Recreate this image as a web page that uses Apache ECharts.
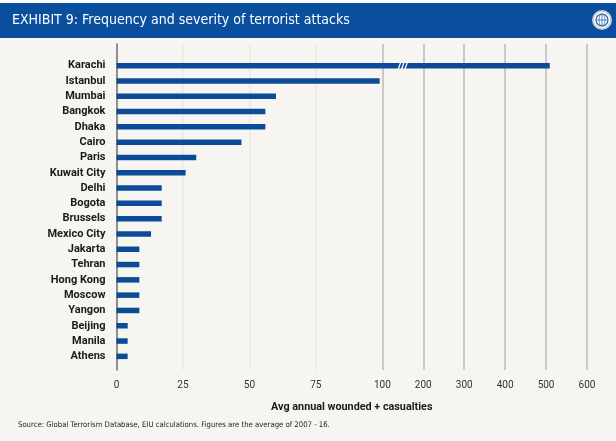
<!DOCTYPE html>
<html>
<head>
<meta charset="utf-8">
<style>
  html, body { margin: 0; padding: 0; background: #f7f5f2; }
  #chart { width: 616px; height: 441px; }
</style>
<script src="https://cdn.jsdelivr.net/npm/echarts@6/dist/echarts.min.js"></script>
</head>
<body>
<div id="chart"></div>
<script>
const cities = [
  'Karachi', 'Istanbul', 'Mumbai', 'Bangkok', 'Dhaka', 'Cairo', 'Paris',
  'Kuwait City', 'Delhi', 'Bogota', 'Brussels', 'Mexico City', 'Jakarta',
  'Tehran', 'Hong Kong', 'Moscow', 'Yangon', 'Beijing', 'Manila', 'Athens'
]
const values = [
  509, 99, 60, 56, 56, 47, 30, 26, 17, 17, 17, 13, 8.6, 8.6, 8.6, 8.6, 8.6,
  4.2, 4.2, 4.2
]
const tickValues = [0, 25, 50, 75, 100, 200, 300, 400, 500, 600]
const breakAt = 150

// above 100 the axis is squeezed: 100 units take the room of ~15
const squeeze = 0.154
function toAxis(v) {
  return v <= 100 ? v : 100 + (v - 100) * squeeze
}

const axisMax = toAxis(600)
const axisTicks = tickValues.map(toAxis)
const blue = '#0c4b98'
const font = "'Liberation Sans Narrow', 'DejaVu Sans Condensed', Roboto, sans-serif"

function tickLabel(v) {
  const i = axisTicks.findIndex(t => Math.abs(t - v) < 0.01)
  return i < 0 ? '' : String(tickValues[i])
}

const chart = echarts.init(document.getElementById('chart'), null, { renderer: 'canvas' })

const option = {
  backgroundColor: '#f7f5f2',
  animation: false,
  grid: [
    // grid for the lines + tick labels
    { left: 116.5, right: 29, top: 44, bottom: 71 },
    // grid for the bars
    { left: 116.5, right: 29, top: 58, height: 306 }
  ],
  xAxis: [
    {
      gridIndex: 0,
      type: 'value',
      min: 0,
      max: axisMax,
      name: 'Avg annual wounded + casualties',
      nameLocation: 'middle',
      nameGap: 32,
      nameTextStyle: { fontFamily: 'Roboto', fontWeight: 'bold', fontSize: 10.8, color: '#1a1a1a' },
      axisLine: { show: false },
      axisTick: { show: false, customValues: axisTicks },
      axisLabel: {
        customValues: axisTicks,
        formatter: tickLabel,
        margin: 10,
        fontFamily: 'Roboto',
        fontSize: 10,
        color: '#333'
      },
      splitLine: {
        show: true,
        lineStyle: {
          width: 1.5,
          color: ['rgba(0,0,0,0)', '#ebe8e3', '#ebe8e3', '#ebe8e3',
            '#bdbab6', '#bdbab6', '#bdbab6', '#bdbab6', '#bdbab6', '#bdbab6']
        }
      }
    },
    {
      gridIndex: 1,
      type: 'value',
      min: 0,
      max: axisMax,
      show: false
    }
  ],
  yAxis: [
    {
      gridIndex: 0,
      type: 'value',
      min: 0,
      max: 1,
      axisLine: { show: true, lineStyle: { color: '#6d6b69', width: 1.5 } },
      axisTick: { show: false },
      axisLabel: { show: false },
      splitLine: { show: false }
    },
    {
      gridIndex: 1,
      type: 'category',
      data: cities,
      inverse: true,
      axisLine: { show: false },
      axisTick: { show: false },
      axisLabel: {
        margin: 11,
        fontFamily: 'Roboto',
        fontWeight: 'bold',
        fontSize: 11,
        color: '#1a1a1a'
      }
    }
  ],
  series: [
    {
      type: 'bar',
      xAxisIndex: 1,
      yAxisIndex: 1,
      data: values.map(toAxis),
      barWidth: 5.5,
      itemStyle: { color: blue },
      markPoint: {
        symbol: 'path://M0,10 L3,0 L4.4,0 L1.4,10 Z M3.4,10 L6.4,0 L7.8,0 L4.8,10 Z M6.8,10 L9.8,0 L11.2,0 L8.2,10 Z',
        symbolSize: [11, 8],
        itemStyle: { color: '#ffffff' },
        label: { show: false },
        data: [{ coord: [toAxis(breakAt), cities[0]] }]
      }
    }
  ],
  graphic: [
    { type: 'rect', left: 0, top: 0, shape: { width: 616, height: 3 }, style: { fill: '#ffffff' } },
    { type: 'rect', left: 0, top: 3, shape: { width: 616, height: 35 }, style: { fill: '#0a4f9d' } },
    {
      type: 'text',
      left: 12,
      top: 13,
      style: {
        text: 'EXHIBIT 9: Frequency and severity of terrorist attacks',
        fill: '#ffffff',
        font: '14px ' + font
      }
    },
    {
      type: 'group',
      left: 592,
      top: 10,
      children: [
        { type: 'circle', shape: { cx: 10, cy: 10, r: 10 }, style: { fill: '#c9ccd1' } },
        { type: 'circle', shape: { cx: 10, cy: 10, r: 8 }, style: { fill: '#ffffff' } },
        { type: 'circle', shape: { cx: 10, cy: 10, r: 6 }, style: { fill: 'none', stroke: '#2c64ad', lineWidth: 1.2 } },
        { type: 'line', shape: { x1: 4, y1: 10, x2: 16, y2: 10 }, style: { stroke: '#2c64ad', lineWidth: 0.8 } },
        { type: 'line', shape: { x1: 10, y1: 4, x2: 10, y2: 16 }, style: { stroke: '#2c64ad', lineWidth: 0.8 } },
        { type: 'ellipse', shape: { cx: 10, cy: 10, rx: 3, ry: 6 }, style: { fill: 'none', stroke: '#2c64ad', lineWidth: 0.8 } }
      ]
    },
    {
      type: 'text',
      left: 18,
      top: 421,
      style: {
        text: 'Source: Global Terrorism Database, EIU calculations. Figures are the average of 2007 - 16.',
        fill: '#222222',
        font: '7.7px ' + font
      }
    }
  ]
}

chart.setOption(option)
</script>
</body>
</html>
